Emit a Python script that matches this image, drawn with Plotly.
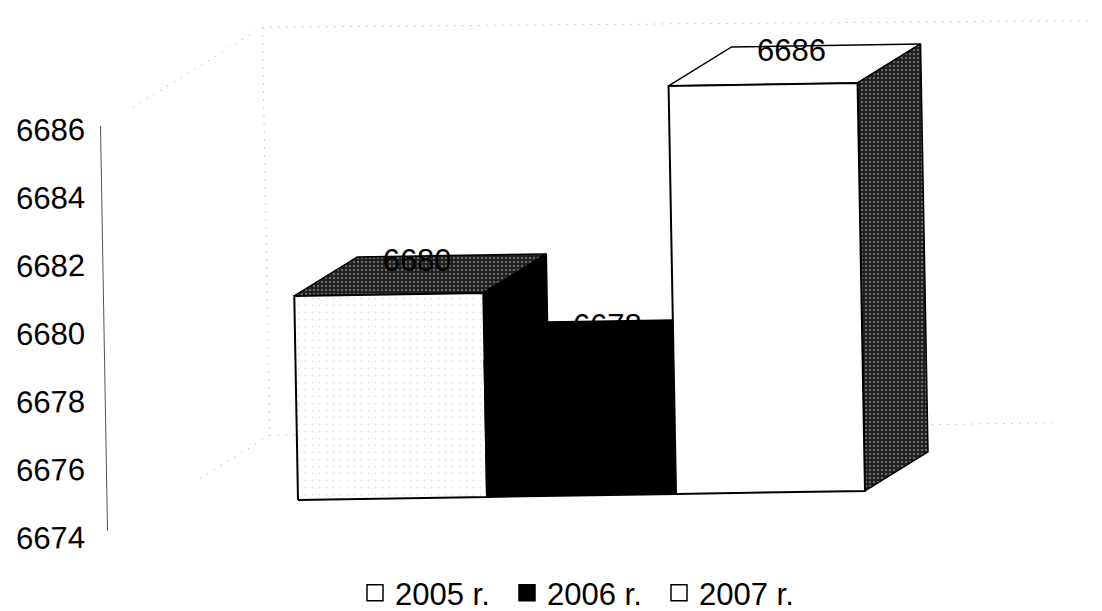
import plotly.graph_objects as go

# ---- data ----
categories = ["2005 r.", "2006 r.", "2007 r."]
values = [6680, 6678, 6686]
tick_values = [6674, 6676, 6678, 6680, 6682, 6684, 6686]
tick_labels = ["6674", "6676", "6678", "6680", "6682", "6684", "6686"]
axis_min = 6674
axis_max = 6686

# ---- page and projection settings ----
W, H = 1102, 611
PAGE = 8              # default page margin before the plot starts
FONT = "Liberation Sans"
FS = 31
BAR_PX = 189.0        # bar width in pixels (one x-axis unit)
UNIT_PX = 34.0        # pixels per value unit
X0_PX = 298.0         # page x of the first bar's lower left corner
Y_AT_MIN = 537.0      # page y of axis_min on the axis
DEPTH_U = 63.0 / BAR_PX
DEPTH_V = 39.0 / UNIT_PX
TILT_V = 3.0 / UNIT_PX   # scan rotation: rise per bar width
SKEW_U = 0.62 / BAR_PX   # scan rotation: sideways shift per value unit
BASE_OFF = 1.09          # front plane sits above the axis minimum


def pt(u, v, d=0.0):
    """Oblique projection of (category position, value, depth) to axis coordinates."""
    x = u + DEPTH_U * d - SKEW_U * (v - axis_min)
    y = v + BASE_OFF + DEPTH_V * d + TILT_V * u
    return x, y


def poly(corners):
    pts = [pt(*c) for c in corners]
    pts.append(pts[0])
    return [p[0] for p in pts], [p[1] for p in pts]


def face(corners, bg, pattern=None, line_w=1.5, line_col="#000000"):
    xs, ys = poly(corners)
    kw = dict(x=xs, y=ys, mode="lines", fill="toself", fillcolor=bg, showlegend=False,
              hoverinfo="skip", line=dict(color=line_col, width=line_w))
    if pattern:
        kw["fillpattern"] = pattern
    return go.Scatter(**kw)


def wall(corners):
    pts = [pt(*c) for c in corners]
    return go.Scatter(x=[p[0] for p in pts], y=[p[1] for p in pts], mode="lines", showlegend=False,
                      hoverinfo="skip", line=dict(color="#a8a8a8", width=1, dash="1px,7px"))


fig = go.Figure()

# back wall and floor guide lines
wall_lo, wall_hi = axis_min + 0.8, axis_max + 0.8
fig.add_trace(wall([(-0.48, wall_hi, -1.05), (-0.48, wall_hi, 1), (4.08, wall_hi - 0.2, 1)]))
fig.add_trace(wall([(-0.48, wall_lo, -0.1), (-0.48, wall_lo, 1), (-0.48, wall_hi, 1)]))
fig.add_trace(wall([(-0.48, wall_lo, 1), (0.1, wall_lo, 1)]))
fig.add_trace(wall([(2.98, wall_lo, 1), (3.66, wall_lo, 1)]))

# styling of each bar's faces
dark_speckle = dict(shape=".", bgcolor="#1c1c1c", fgcolor="#b4b4b4", size=4, solidity=0.3)
light_speckle = dict(shape=".", bgcolor="#ffffff", fgcolor="#c4c4c4", size=7, solidity=0.06)
top_style = [("#333333", dark_speckle), ("#000000", None), ("#ffffff", None)]
side_style = [("#000000", None), ("#000000", None), ("#222222", dark_speckle)]
front_style = [("#ffffff", light_speckle), ("#000000", None), ("#ffffff", None)]

for i, val in enumerate(values):
    lo = axis_min
    l, r = float(i), float(i + 1)
    fig.add_trace(face([(l, val, 0), (r, val, 0), (r, val, 1), (l, val, 1)],
                       top_style[i][0], top_style[i][1]))
    fig.add_trace(face([(r, lo, 0), (r, val, 0), (r, val, 1), (r, lo, 1)],
                       side_style[i][0], side_style[i][1]))
    fig.add_trace(face([(l, lo, 0), (r, lo, 0), (r, val, 0), (l, val, 0)],
                       front_style[i][0], front_style[i][1], line_w=2))

# value labels, sitting on the top of each bar
lab = [pt(i + 0.5, v, 0.8) for i, v in enumerate(values)]
lab_x = [pt(i + 0.5, v, 0.45)[0] for i, v in enumerate(values)]
fig.add_trace(go.Scatter(x=lab_x, y=[p[1] for p in lab], mode="text", text=[str(v) for v in values],
                         textposition="middle center", textfont=dict(family=FONT, size=FS, color="#000000"),
                         showlegend=False, hoverinfo="skip"))

# the value axis line
ax_u = (104.0 - X0_PX) / BAR_PX
fig.add_trace(go.Scatter(x=[ax_u - 3.5 / BAR_PX, ax_u + 3.5 / BAR_PX],
                         y=[axis_max + 0.09, axis_min + 0.18], mode="lines", showlegend=False,
                         hoverinfo="skip", line=dict(color="#555555", width=1)))

# legend entries
legend_fill = ["#ffffff", "#000000", "#ffffff"]
for name, col in zip(categories, legend_fill):
    fig.add_trace(go.Scatter(x=[None], y=[None], mode="markers", name=name,
                             marker=dict(symbol="square", size=16, color=col,
                                         line=dict(color="#000000", width=1.5))))

PW, PH = W - PAGE, 612
fig.update_layout(
    width=PW, height=PH,
    margin=dict(l=0, r=0, t=0, b=0),
    paper_bgcolor="#ffffff", plot_bgcolor="#ffffff",
    font=dict(family=FONT, size=FS, color="#000000"),
    showlegend=True,
    legend=dict(orientation="h", x=347.0 / PW, xanchor="left", y=0.0, yanchor="bottom",
                bgcolor="rgba(0,0,0,0)", font=dict(family=FONT, size=FS, color="#000000"),
                itemsizing="trace", entrywidth=107, entrywidthmode="pixels",
                traceorder="normal"),
    xaxis=dict(range=[(PAGE - X0_PX) / BAR_PX, (W - X0_PX) / BAR_PX], visible=False, fixedrange=True),
    yaxis=dict(range=[axis_min - (PAGE + PH - Y_AT_MIN) / UNIT_PX, axis_min + (Y_AT_MIN - PAGE) / UNIT_PX],
               anchor="free", position=77.0 / PW, tickmode="array", tickvals=tick_values,
               ticktext=tick_labels, ticks="", tickangle=-1, showgrid=False, zeroline=False,
               showline=False, tickfont=dict(family=FONT, size=FS, color="#000000"),
               automargin=False, fixedrange=True),
)

fig.write_html("out.html", config=dict(displayModeBar=False))
